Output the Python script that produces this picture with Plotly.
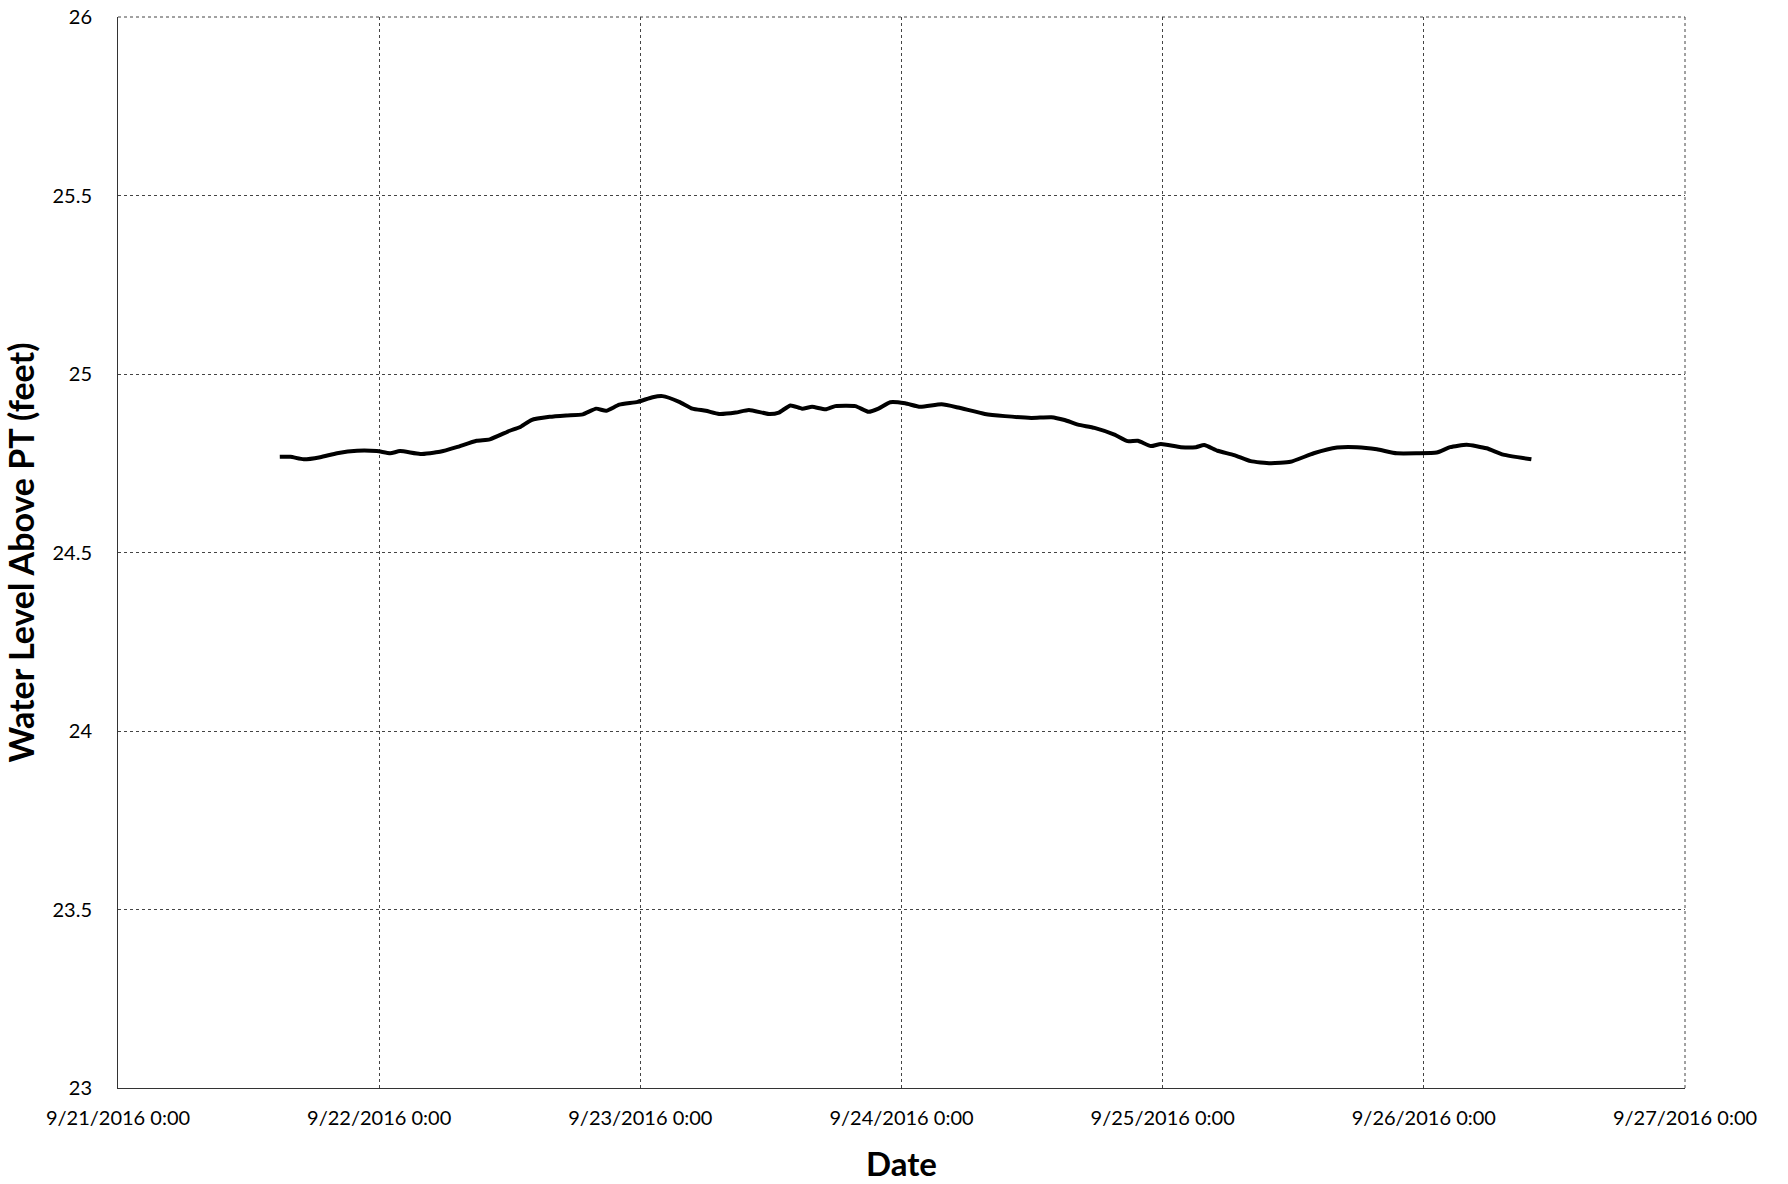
import plotly.graph_objects as go

times = [
    "2016-09-21 14:52", "2016-09-21 15:51", "2016-09-21 17:04", "2016-09-21 18:35",
    "2016-09-21 20:08", "2016-09-21 21:58", "2016-09-21 23:47", "2016-09-22 01:01",
    "2016-09-22 01:55", "2016-09-22 03:46", "2016-09-22 05:35", "2016-09-22 07:07",
    "2016-09-22 08:57", "2016-09-22 10:10", "2016-09-22 12:00", "2016-09-22 12:55",
    "2016-09-22 13:59", "2016-09-22 15:40", "2016-09-22 17:11", "2016-09-22 18:43",
    "2016-09-22 19:56", "2016-09-22 20:52", "2016-09-22 22:04", "2016-09-22 23:45",
    "2016-09-23 01:08", "2016-09-23 02:02", "2016-09-23 03:34", "2016-09-23 04:47",
    "2016-09-23 06:01", "2016-09-23 07:14", "2016-09-23 08:46", "2016-09-23 09:59",
    "2016-09-23 11:49", "2016-09-23 12:44", "2016-09-23 13:48", "2016-09-23 14:52",
    "2016-09-23 15:47", "2016-09-23 17:01", "2016-09-23 17:55", "2016-09-23 19:46",
    "2016-09-23 20:58", "2016-09-23 21:53", "2016-09-23 22:58", "2016-09-24 00:20",
    "2016-09-24 01:43", "2016-09-24 03:41", "2016-09-24 05:13", "2016-09-24 07:40",
    "2016-09-24 09:30", "2016-09-24 11:56", "2016-09-24 13:46", "2016-09-24 14:59",
    "2016-09-24 16:13", "2016-09-24 17:44", "2016-09-24 19:34", "2016-09-24 20:47",
    "2016-09-24 21:43", "2016-09-24 22:55", "2016-09-24 23:50", "2016-09-25 01:40",
    "2016-09-25 03:03", "2016-09-25 03:49", "2016-09-25 05:02", "2016-09-25 06:34",
    "2016-09-25 08:05", "2016-09-25 09:55", "2016-09-25 11:45", "2016-09-25 13:53",
    "2016-09-25 16:02", "2016-09-25 17:52", "2016-09-25 19:41", "2016-09-25 21:31",
    "2016-09-25 23:21", "2016-09-26 01:11", "2016-09-26 02:25", "2016-09-26 03:56",
    "2016-09-26 05:46", "2016-09-26 07:18", "2016-09-26 09:53",
]

water_level = [
    24.768, 24.768, 24.761, 24.767, 24.778, 24.785, 24.784, 24.778,
    24.784, 24.776, 24.782, 24.795, 24.813, 24.817, 24.841, 24.851,
    24.871, 24.880, 24.884, 24.887, 24.903, 24.897, 24.914, 24.922,
    24.935, 24.938, 24.922, 24.903, 24.897, 24.888, 24.892, 24.899,
    24.888, 24.892, 24.912, 24.903, 24.908, 24.901, 24.910, 24.910,
    24.894, 24.903, 24.921, 24.918, 24.908, 24.915, 24.906, 24.888,
    24.882, 24.877, 24.879, 24.871, 24.858, 24.849, 24.830, 24.812,
    24.813, 24.798, 24.804, 24.795, 24.795, 24.801, 24.785, 24.773,
    24.756, 24.750, 24.754, 24.778, 24.794, 24.795, 24.789, 24.778,
    24.778, 24.780, 24.795, 24.802, 24.792, 24.774, 24.761,
]

x_range = ["2016-09-21 00:00", "2016-09-27 00:00"]
y_range = [23, 26]
y_ticks = [23, 23.5, 24, 24.5, 25, 25.5, 26]
y_tick_text = ["23", "23.5", "24", "24.5", "25", "25.5", "26"]

fig = go.Figure()
fig.add_trace(go.Scatter(
    x=times, y=water_level, mode="lines",
    line=dict(color="black", width=4, shape="spline", smoothing=0.5),
    showlegend=False,
))

font_family = "Lato, 'Open Sans', sans-serif"

fig.update_layout(
    width=1788, height=1184,
    margin=dict(l=118, r=103, t=17, b=96),
    paper_bgcolor="white", plot_bgcolor="white",
    font=dict(family=font_family, color="black", size=20),
    xaxis=dict(
        range=x_range, type="date",
        dtick=86400000, tick0="2016-09-21",
        tickformat="%-m/%-d/%Y %-H:%M",
        showgrid=True, gridcolor="#444", gridwidth=1, griddash="dot",
        showline=True, linecolor="#333", linewidth=1,
        ticks="", ticklabelstandoff=12, ticklabeloverflow="allow",
        zeroline=False, automargin=False,
        title=dict(text="<b>Date</b>", font=dict(size=33, family=font_family), standoff=24),
    ),
    yaxis=dict(
        range=y_range, tickvals=y_ticks, ticktext=y_tick_text,
        showgrid=True, gridcolor="#444", gridwidth=1, griddash="dot",
        showline=True, linecolor="#333", linewidth=1,
        ticks="", ticklabelstandoff=21, ticklabeloverflow="allow",
        zeroline=False, automargin=False,
        title=dict(text="<b>Water Level Above PT (feet)</b>", font=dict(size=34, family=font_family), standoff=10),
    ),
)

fig.add_shape(type="line", xref="paper", yref="paper", x0=1, x1=1, y0=0, y1=1,
              line=dict(color="#444", width=1, dash="dot"))
fig.add_shape(type="line", xref="paper", yref="paper", x0=0, x1=1, y0=1, y1=1,
              line=dict(color="#444", width=1, dash="dot"))

fig.write_html(
    "out.html",
    config={"displayModeBar": False},
    post_script="document.body.style.margin='0';document.body.style.overflow='hidden';",
)
